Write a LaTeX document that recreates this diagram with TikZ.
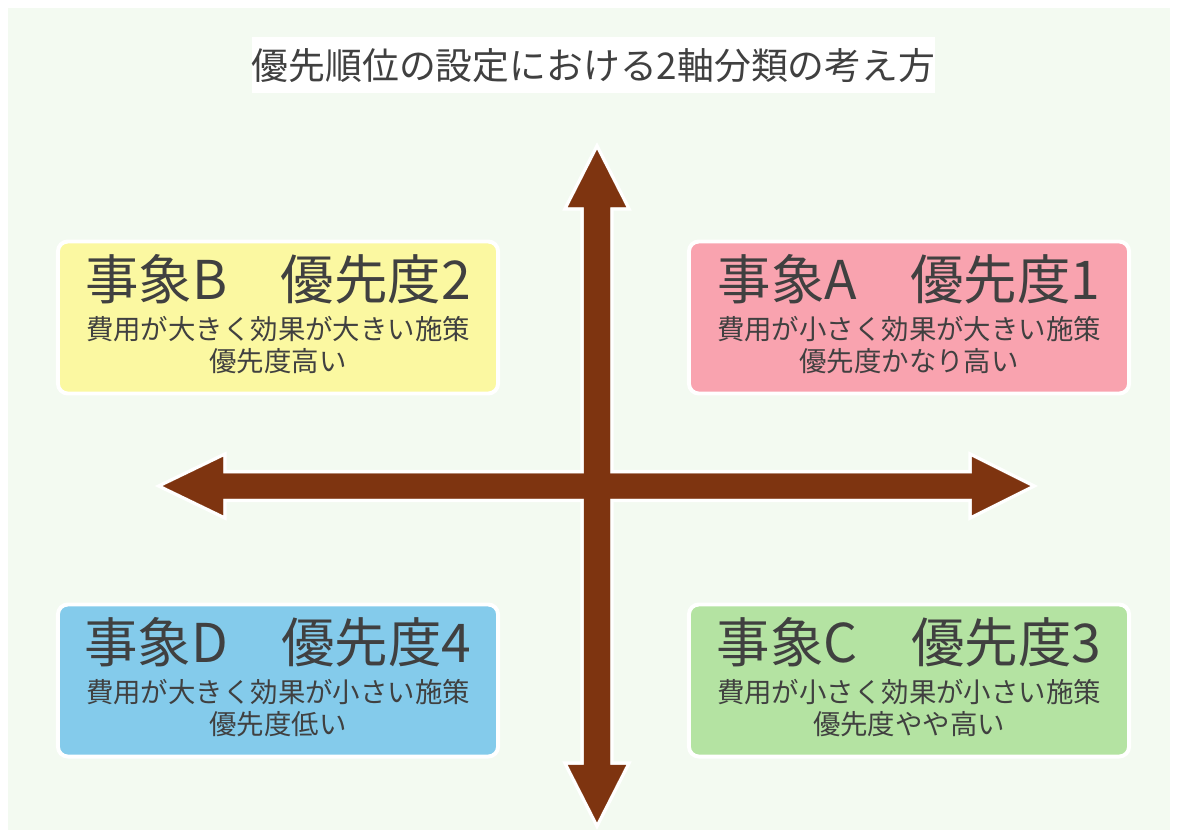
\documentclass[tikz,border=0pt]{standalone}
\usepackage{fontspec}
\setmainfont{Noto Sans CJK JP}
\usetikzlibrary{positioning}
\usepackage{xcolor}

\definecolor{mintbg}{HTML}{F3FAF1}
\definecolor{axisbrown}{HTML}{7E3410}
\definecolor{boxyellow}{HTML}{FBF8A1}
\definecolor{boxpink}{HTML}{F9A3AF}
\definecolor{boxblue}{HTML}{84CBEB}
\definecolor{boxgreen}{HTML}{B4E3A2}
\definecolor{textgray}{HTML}{404040}

\tikzset{
  quadbox/.style={draw=white, line width=2.8pt, rounded corners=7pt,
    minimum width=11cm, minimum height=3.8cm, inner sep=0pt},
  evtitle/.style={text=textgray, font=\fontsize{38}{42}\selectfont, inner sep=0pt},
  evtext/.style={text=textgray, font=\fontsize{19.5}{23}\selectfont, inner sep=0pt}
}

\begin{document}
\begin{tikzpicture}[x=0.025cm, y=-0.025cm]
\useasboundingbox (0,0) rectangle (1177,836);
\fill[white] (0,0) rectangle (1177,836);
\fill[mintbg] (8,8) rectangle (1170,830);

% title
\fill[white] (252,37) rectangle (935,93);
\node[text=textgray, font=\fontsize{26.2}{30}\selectfont, inner sep=0pt] (title) at (593.5,66) {優先順位の設定における2軸分類の考え方};

% axes
\foreach \lw/\col in {5pt/white, 0.1pt/axisbrown}{
  \filldraw[fill=\col, draw=\col, line width=\lw, line join=miter]
    (597,150) -- (626,207) -- (610,207) -- (610,765) -- (626,765) -- (597,822)
    -- (568,765) -- (584,765) -- (584,207) -- (568,207) -- cycle;
  \filldraw[fill=\col, draw=\col, line width=\lw, line join=miter]
    (163,486) -- (223,457) -- (223,473.5) -- (972,473.5) -- (972,457) -- (1030,486)
    -- (972,515) -- (972,498.5) -- (223,498.5) -- (223,515) -- cycle;
}

% quadrants
\node[quadbox, fill=boxyellow] (evB) at (278,317.5) {};
\node[quadbox, fill=boxpink] (evA) at (909,317.5) {};
\node[quadbox, fill=boxblue] (evD) at (278,680.5) {};
\node[quadbox, fill=boxgreen] (evC) at (909,680.5) {};

\node[evtitle] (evBtitle) at (278,279) {事象B　優先度2};
\node[evtext] (evBcost) at (278,329) {費用が大きく効果が大きい施策};
\node[evtext] (evBprio) at (278,361) {優先度高い};

\node[evtitle] (evAtitle) at (909,279) {事象A　優先度1};
\node[evtext] (evAcost) at (909,329) {費用が小さく効果が大きい施策};
\node[evtext] (evAprio) at (909,361) {優先度かなり高い};

\node[evtitle] (evDtitle) at (278,642) {事象D　優先度4};
\node[evtext] (evDcost) at (278,692) {費用が大きく効果が小さい施策};
\node[evtext] (evDprio) at (278,724) {優先度低い};

\node[evtitle] (evCtitle) at (909,642) {事象C　優先度3};
\node[evtext] (evCcost) at (909,692) {費用が小さく効果が小さい施策};
\node[evtext] (evCprio) at (909,724) {優先度やや高い};

\end{tikzpicture}
\end{document}
